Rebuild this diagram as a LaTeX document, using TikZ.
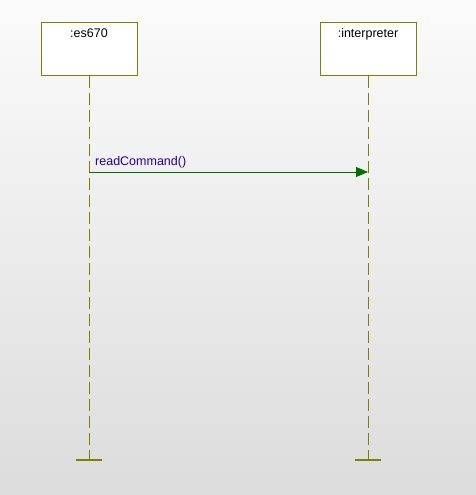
\documentclass[tikz,border=0pt]{standalone}
\usepackage{fontspec}
\setmainfont{Liberation Sans}
\usetikzlibrary{arrows.meta}
\definecolor{olivec}{RGB}{128,128,0}
\definecolor{msggreen}{RGB}{0,112,0}
\definecolor{msgtext}{RGB}{40,0,150}
\definecolor{bgtop}{RGB}{251,251,251}
\definecolor{bgbot}{RGB}{220,220,220}
\begin{document}
\begin{tikzpicture}[x=1pt,y=-1pt,
  objbox/.style={draw=olivec, line width=1pt, fill=white, minimum width=96pt, minimum height=52pt, inner sep=0pt},
  objlabel/.style={font=\fontsize{12.5}{14}\selectfont, text=black},
  lifeline/.style={draw=olivec, line width=1pt, dash pattern=on 12pt off 5pt},
  endbar/.style={draw=olivec, line width=1.2pt},
  message/.style={draw=msggreen, line width=1pt, -{Triangle[length=12pt,width=10pt]}},
  msglabel/.style={font=\fontsize{12.5}{14}\selectfont, text=msgtext, anchor=south west, inner sep=0pt}]
  % background
  \shade[top color=bgtop, bottom color=bgbot] (0,0) rectangle (476,495);
  \useasboundingbox (0,0) rectangle (476,495);
  % objects
  \node[objbox] (es) at (89,49) {};
  \node[objbox] (interp) at (368,49) {};
  \node[objlabel, anchor=north] (esl) at (89,25) {:es670};
  \node[objlabel, anchor=north] (interpl) at (368,25) {:interpreter};
  % lifeline ends
  \coordinate (esend) at (89,460);
  \coordinate (interpend) at (368,460);
  \draw[lifeline] (es.south) -- (esend);
  \draw[lifeline] (interp.south) -- (interpend);
  \draw[endbar] (76,460) -- (102,460);
  \draw[endbar] (355,460) -- (381,460);
  % message
  \coordinate (m1s) at (89,172);
  \coordinate (m1e) at (368,172);
  \draw[message] (m1s) -- (m1e);
  \node[msglabel] (m1l) at (95,168) {readCommand()};
\end{tikzpicture}
\end{document}
